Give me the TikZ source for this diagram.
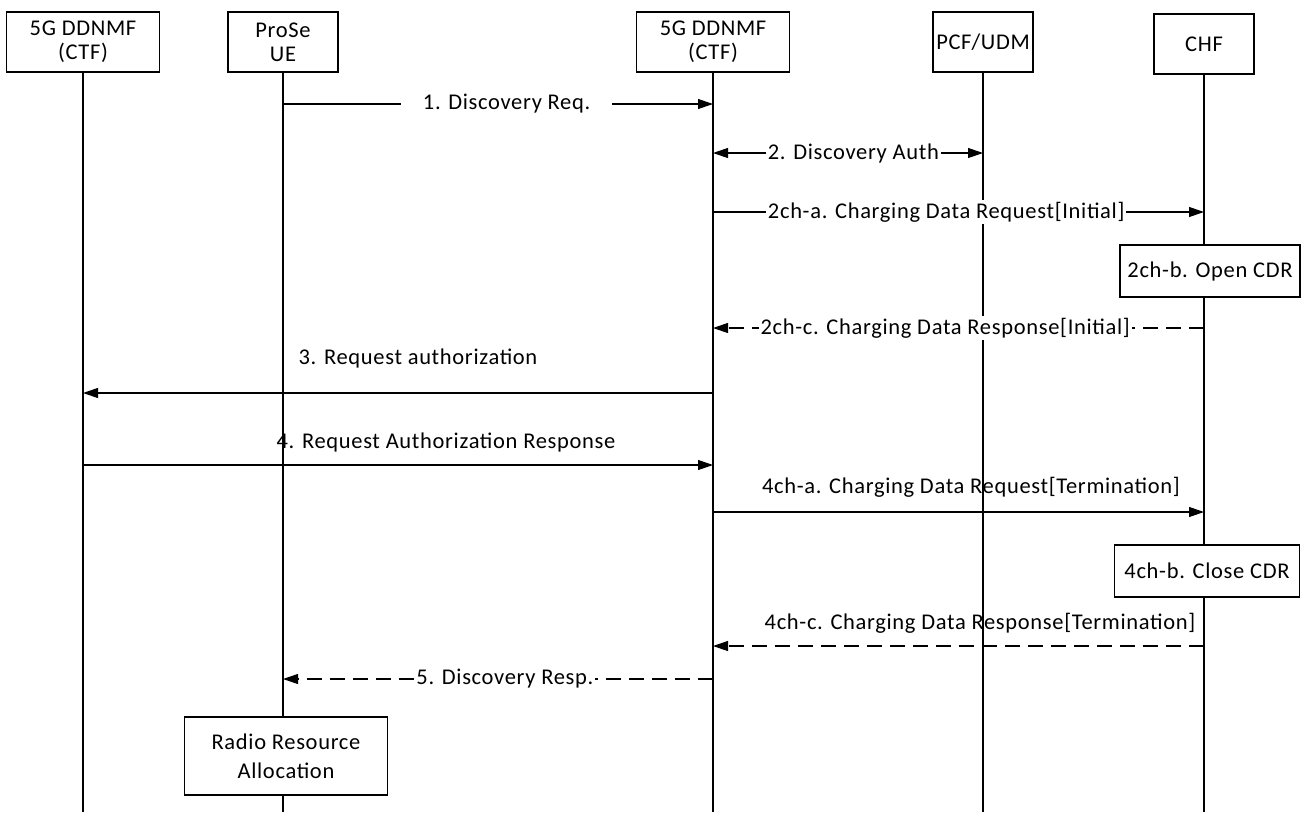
\documentclass[tikz,border=0pt]{standalone}
\usepackage{fontspec}
\setmainfont{Carlito}[LetterSpace=3]
\usetikzlibrary{arrows.meta, positioning}

\begin{document}
\begin{tikzpicture}[
    x=1pt, y=-1pt,
    font=\fontsize{22.5}{24}\selectfont,
    head/.style={rectangle, draw, line width=1.1pt, fill=white, align=center, inner sep=2pt, minimum height=60pt},
    act/.style={rectangle, draw, line width=1.1pt, fill=white, align=center, minimum height=52pt},
    life/.style={line width=1.1pt},
    msg/.style={-{Triangle[length=15pt, width=10pt]}, line width=1.1pt},
    ret/.style={msg, dash pattern=on 15pt off 8pt},
    both/.style={{Triangle[length=15pt, width=10pt]}-{Triangle[length=15pt, width=10pt]}, line width=1.1pt},
    cut/.style={fill=white, inner sep=4pt},
    lbl/.style={inner sep=1pt}
]
    \useasboundingbox (0,0) rectangle (1305,812);

    % Lifeline heads, left to right
    \node[head, minimum width=153pt] (ddl) at (83, 42) {5G DDNMF\\(CTF)};
    \node[head, minimum width=110pt] (ue) at (283, 42) {ProSe\\UE};
    \node[head, minimum width=153pt] (ddc) at (713, 42) {5G DDNMF\\(CTF)};
    \node[head, minimum width=100pt] (pcf) at (983, 42) {PCF/UDM};
    \node[head, minimum width=100pt] (chf) at (1204, 44) {CHF};
    \coordinate (bot) at (0, 812);

    % Lifelines
    \foreach \n in {ddl, ue, ddc, pcf, chf}
        \draw[life] (\n.south) -- (\n.south |- bot);

    % Actions on the lifelines
    \node[act, minimum width=180pt] (opencdr) at (1210, 271) {2ch-b. Open CDR};
    \node[act, minimum width=185pt] (closecdr) at (1207, 571) {4ch-b. Close CDR};
    \node[act, minimum width=203pt, minimum height=78pt] (radio) at (286, 756) {Radio Resource\\[5pt]Allocation};

    % Message levels
    \coordinate (s1) at (0, 104);
    \coordinate (s2) at (0, 153);
    \coordinate (s3) at (0, 212);
    \coordinate (s4) at (0, 328);
    \coordinate (s5) at (0, 393);
    \coordinate (s6) at (0, 465);
    \coordinate (s7) at (0, 512);
    \coordinate (s8) at (0, 646);
    \coordinate (s9) at (0, 679);

    % Messages
    \draw[msg] (ue |- s1) -- node[cut, inner xsep=22pt, pos=0.52] (m1) {1. Discovery Req.} (ddc |- s1);
    \draw[both] (ddc |- s2) -- node[cut, inner sep=2pt, pos=0.52] (m2) {2. Discovery Auth} (pcf |- s2);
    \draw[msg] (ddc |- s3) -- node[cut, inner sep=2pt, pos=0.475] (m3) {2ch-a. Charging Data Request[Initial]} (chf |- s3);
    \draw[ret] (chf |- s4) -- node[cut, inner sep=2pt, pos=0.527] (m4) {2ch-c. Charging Data Response[Initial]} (ddc |- s4);
    \draw[msg] (ddc |- s5) -- (ddl |- s5);
    \node[lbl] (m5) at (418, 358) {3. Request authorization};
    \draw[msg] (ddl |- s6) -- (ddc |- s6);
    \node[lbl] (m6) at (446, 442) {4. Request Authorization Response};
    \draw[msg] (ddc |- s7) -- (chf |- s7);
    \node[lbl] (m7) at (971, 487) {4ch-a. Charging Data Request[Termination]};
    \draw[ret] (chf |- s8) -- (ddc |- s8);
    \node[lbl] (m8) at (980, 623) {4ch-c. Charging Data Response[Termination]};
    \draw[ret] (ddc |- s9) -- node[cut, inner sep=2pt, pos=0.484] (m9) {5. Discovery Resp.} (ue |- s9);
\end{tikzpicture}
\end{document}
